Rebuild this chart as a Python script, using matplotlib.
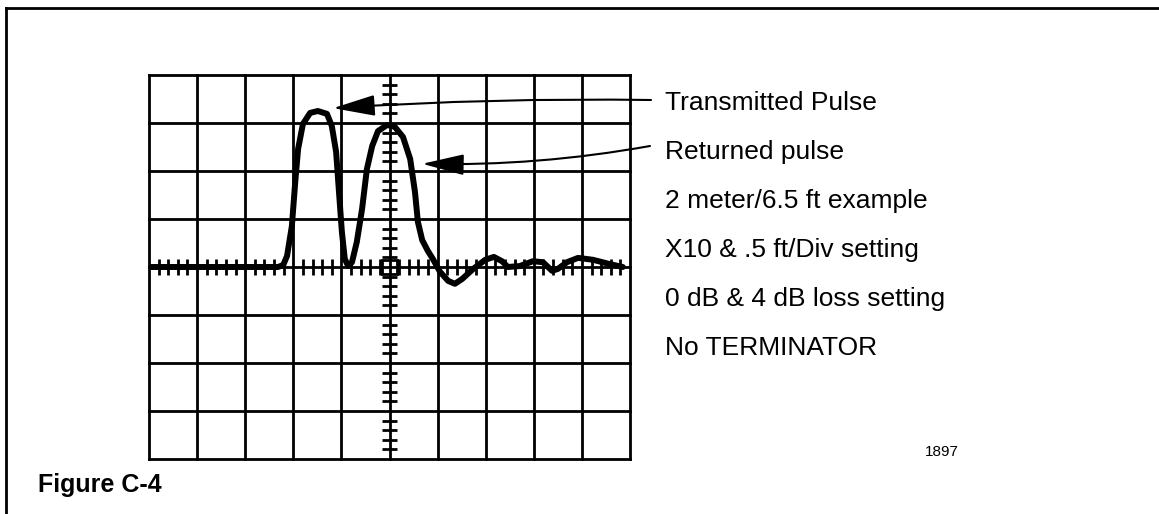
import numpy as np
from matplotlib import pyplot as plt
from matplotlib.lines import Line2D
from matplotlib.patches import Rectangle

# scope trace, in screen divisions (x: 0..10, y: -4..4 around the centre line)
trace_x = [0.0, 2.68, 2.79, 2.87, 2.97, 3.04, 3.10, 3.20, 3.35, 3.51, 3.70, 3.80, 3.89,
           3.95, 4.01, 4.07, 4.14, 4.22, 4.32, 4.43, 4.53, 4.64, 4.76, 4.95, 5.11, 5.28,
           5.43, 5.53, 5.59, 5.68, 5.80, 5.90, 6.05, 6.22, 6.36, 6.51, 6.74, 6.99, 7.17,
           7.34, 7.46, 7.71, 7.98, 8.19, 8.38, 8.50, 8.69, 8.92, 9.23, 9.58, 9.85]
trace_y = [0.0, 0.0, 0.04, 0.23, 0.85, 1.77, 2.46, 2.98, 3.21, 3.25, 3.19, 2.94, 2.40,
           1.56, 0.73, 0.17, 0.02, 0.10, 0.52, 1.21, 2.04, 2.52, 2.83, 2.96, 2.92, 2.71,
           2.25, 1.56, 0.94, 0.56, 0.33, 0.17, -0.10, -0.29, -0.35, -0.25, -0.04, 0.15,
           0.21, 0.12, 0.0, 0.02, 0.12, 0.10, -0.08, -0.04, 0.10, 0.19, 0.15, 0.06, 0.0]

# arrow tips (divisions) for the two callouts
transmitted_tip = (3.83, 3.31)
returned_tip = (5.68, 2.15)

notes = ['Transmitted Pulse', 'Returned pulse', '2 meter/6.5 ft example',
         'X10 & .5 ft/Div setting', '0 dB & 4 dB loss setting', 'No TERMINATOR']
figure_label = 'Figure C-4'
drawing_number = '1897'

W, H = 1159, 514
FONT = 'Liberation Sans'

fig = plt.figure(figsize=(W / 100, H / 100), dpi=100)
ax = fig.add_axes([149 / W, (H - 459) / H, 481 / W, 384 / H])
ax.set_xlim(0, 10)
ax.set_ylim(-4, 4)
ax.axis('off')

# graticule
for gx in range(11):
    ax.axvline(gx, color='black', lw=2.0, clip_on=False, solid_capstyle='projecting')
for gy in range(-4, 5):
    ax.axhline(gy, color='black', lw=2.0, clip_on=False, solid_capstyle='projecting')

# minor ticks on the centre lines
for k in range(1, 50):
    if k % 5:
        t = k * 0.2
        ax.plot([t, t], [-0.17, 0.17], color='black', lw=2.0, solid_capstyle='butt')
for k in range(-19, 20):
    if k % 5:
        t = k * 0.2
        ax.plot([5 - 0.166, 5 + 0.166], [t, t], color='black', lw=2.0, solid_capstyle='butt')
ax.add_patch(Rectangle((5 - 0.156, -0.156), 0.312, 0.312, fill=False, ec='black', lw=2.0))

# trace
ax.plot(trace_x, trace_y, color='black', lw=4.3, solid_joinstyle='round',
        solid_capstyle='round')

# callout arrows
arrow_kw = dict(arrowstyle='-|>,head_length=2.6,head_width=0.65', color='black',
                lw=1.5, shrinkA=0, shrinkB=0, mutation_scale=10)
ax.annotate('', xy=transmitted_tip, xycoords='data',
            xytext=(651 / W, 1 - 100 / H), textcoords='figure fraction',
            arrowprops=dict(connectionstyle='arc3,rad=0.02', **arrow_kw))
ax.annotate('', xy=returned_tip, xycoords='data',
            xytext=(650 / W, 1 - 146 / H), textcoords='figure fraction',
            arrowprops=dict(connectionstyle='arc3,rad=-0.05', **arrow_kw))

# notes
for i, line in enumerate(notes):
    fig.text(665 / W, 1 - (103 + 49 * i) / H, line, fontsize=19, family=FONT,
             va='center', ha='left')

fig.text(38 / W, 1 - 485 / H, figure_label, fontsize=18, family=FONT,
         fontweight='bold', va='center', ha='left')
fig.text(925 / W, 1 - 452 / H, drawing_number, fontsize=11, family=FONT,
         va='center', ha='left')

# page frame (top and left edges)
fig.add_artist(Line2D([6 / W, 1], [1 - 8 / H, 1 - 8 / H], color='black', lw=2.0,
                      transform=fig.transFigure))
fig.add_artist(Line2D([6 / W, 6 / W], [0, 1 - 8 / H], color='black', lw=2.0,
                      transform=fig.transFigure))

fig.savefig('out.png', dpi=100)
